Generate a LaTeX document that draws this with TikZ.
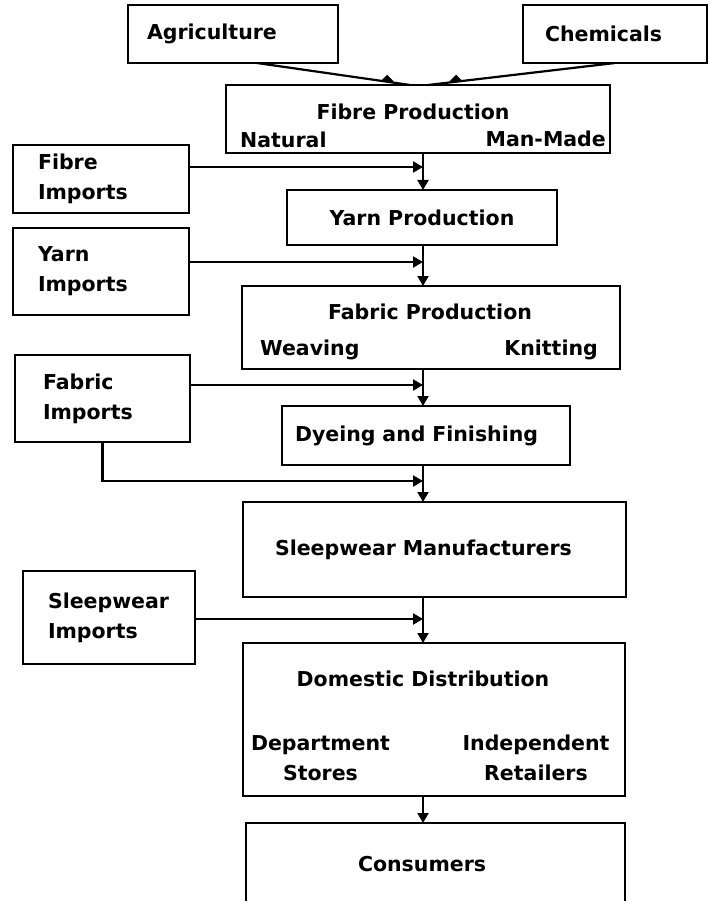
\documentclass[tikz,border=0pt]{standalone}
\usepackage{fontspec}
\setmainfont{DejaVu Sans}
\usetikzlibrary{positioning, arrows.meta, calc}

\begin{document}
\begin{tikzpicture}[x=1pt, y=-1pt, node distance=37pt,
        every node/.style={font=\fontsize{20.5}{30}\selectfont\bfseries},
        box/.style={draw, rectangle, line width=2.6pt, outer sep=0pt, inner ysep=0pt, align=left},
        lbl/.style={inner sep=0pt, align=center},
        arr/.style={-{Triangle[length=10pt, width=11pt]}, line width=2.2pt}]
        \useasboundingbox (0,0) rectangle (709,901);
        % Sources
        \node[box, minimum height=58pt, inner xsep=19pt, text width=172pt] (agri) at (233,34) {Agriculture};
        \node[box, minimum height=58pt, inner xsep=22pt, text width=140pt] (chem) at (615,34) {Chemicals};
        % Main chain
        \node[box, minimum width=384pt, minimum height=68pt] (fibre) at (418,119) {};
        \node[box, align=center, below=37pt of fibre, xshift=4pt, minimum width=270pt, minimum height=55pt] (yarn) {Yarn Production};
        \node[box, below=41pt of yarn, xshift=9pt, minimum width=378pt, minimum height=83pt] (fabric) {};
        \node[box, below=of fabric, xshift=-5pt, inner xsep=13pt, text width=262pt, minimum height=59pt] (dye) {Dyeing and Finishing};
        \node[box, below=of dye, xshift=8.5pt, inner xsep=32pt, text width=319pt, minimum height=95pt] (mfr) {Sleepwear Manufacturers};
        \node[box, below=46pt of mfr, xshift=-0.5pt, minimum width=382pt, minimum height=153pt] (dom) {};
        \node[box, below=27pt of dom, xshift=1.5pt, inner xsep=112pt, text width=155pt, minimum height=82pt] (cons) {Consumers};
        % Box texts
        \node[lbl] (fibtitle) at ($(fibre.center)+(-5,-7)$) {Fibre Production};
        \node[lbl, anchor=west] (natural) at ($(fibre.south west)+(14,-13)$) {Natural};
        \node[lbl, anchor=east] (manmade) at ($(fibre.south east)+(-4,-14)$) {Man-Made};
        \node[lbl] (fabtitle) at ($(fabric.center)+(-1,-15.5)$) {Fabric Production};
        \node[lbl, anchor=west] (weaving) at ($(fabric.south west)+(18,-19)$) {Weaving};
        \node[lbl, anchor=east] (knitting) at ($(fabric.south east)+(-22,-19)$) {Knitting};
        \node[lbl] (domtitle) at ($(dom.center)+(-11,-40.5)$) {Domestic Distribution};
        \node[lbl] (depstores) at ($(dom.center)+(-113.5,38.5)$) {Department\\Stores};
        \node[lbl] (indret) at ($(dom.center)+(102,38.5)$) {Independent\\Retailers};
        % Imports
        \node[box, minimum height=68pt, inner xsep=25pt, text width=126pt] (fibimp) at (101,179) {Fibre\\Imports};
        \node[box, minimum height=87pt, inner xsep=25pt, text width=126pt] (yarnimp) at (101,271.5) {Yarn\\Imports};
        \node[box, minimum height=87pt, inner xsep=28pt, text width=119pt] (fabimp) at (102.5,398.5) {Fabric\\Imports};
        \node[box, minimum height=93pt, inner xsep=25pt, text width=122pt] (sleepimp) at (109,617.5) {Sleepwear\\Imports};
        % Joins on the main line
        \coordinate (spine) at (423,0);
        \coordinate (fibjoin) at (423,167);
        \coordinate (yarnjoin) at (423,262);
        \coordinate (fabjoin) at (423,385);
        \coordinate (dyejoin) at (423,481);
        \coordinate (sleepjoin) at (423,619);
        % Arrows
        \draw[line width=2.2pt] ([xshift=24pt]agri.south) -- ([xshift=-8pt]fibre.north);
        \draw[line width=2.2pt] (chem.south) -- ([xshift=10pt]fibre.north);
        \fill ($([xshift=24pt]agri.south)!0.85!([xshift=-8pt]fibre.north)$) +(-7,0) -- +(7,0) -- +(0,-7) -- cycle;
        \fill ($(chem.south)!0.85!([xshift=10pt]fibre.north)$) +(-7,0) -- +(7,0) -- +(0,-7) -- cycle;
        \foreach \a/\b in {fibre/yarn, yarn/fabric, fabric/dye, dye/mfr, mfr/dom, dom/cons}
            \draw[arr] (\a.south -| spine) -- (\b.north -| spine);
        \draw[arr] (fibimp.east |- fibjoin) -- (fibjoin);
        \draw[arr] (yarnimp.east |- yarnjoin) -- (yarnjoin);
        \draw[arr] (fabimp.east |- fabjoin) -- (fabjoin);
        \draw[arr] (fabimp.south) |- (dyejoin);
        \draw[arr] (sleepimp.east |- sleepjoin) -- (sleepjoin);
    \end{tikzpicture}
\end{document}
